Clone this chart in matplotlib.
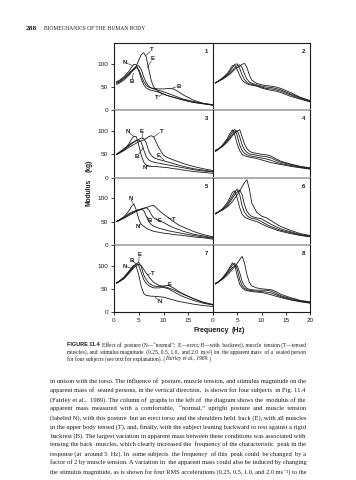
import matplotlib
matplotlib.use("Agg")
import matplotlib.pyplot as plt

# ---- data -------------------------------------------------------------------
FREQ = [0.5, 1, 2, 3, 3.5, 4, 4.5, 5, 5.5, 6, 6.5, 7, 7.5, 8, 9, 10, 11, 12, 13, 14, 16, 18, 20]

# left column: posture / muscle tension (N, E, T, B), one row per subject
POSTURE_1 = {
    "N": [62, 64, 72, 84, 92, 99, 98, 85, 68, 55, 48, 45, 43, 42, 39, 35, 31, 28, 25, 22, 17, 14, 11],
    "E": [60, 62, 70, 80, 85, 90, 95, 96, 88, 72, 60, 52, 48, 46, 43, 40, 36, 32, 28, 24, 19, 15, 12],
    "T": [58, 60, 68, 78, 83, 88, 95, 108, 120, 124, 115, 90, 65, 50, 40, 35, 31, 28, 25, 22, 17, 14, 11],
    "B": [56, 58, 65, 75, 82, 88, 92, 88, 75, 62, 54, 50, 48, 47, 46, 46, 47, 46, 40, 33, 22, 15, 11],
}
POSTURE_2 = {
    "N": [50, 53, 60, 72, 82, 89, 88, 70, 48, 33, 27, 25, 24, 24, 23, 22, 21, 19, 18, 16, 13, 11, 9],
    "B": [50, 54, 62, 70, 74, 77, 80, 81, 76, 60, 45, 38, 35, 33, 31, 29, 27, 25, 23, 21, 17, 14, 12],
    "E": [50, 53, 60, 68, 72, 76, 79, 82, 85, 84, 75, 58, 48, 43, 39, 36, 33, 30, 27, 24, 19, 16, 13],
    "T": [50, 52, 58, 65, 68, 71, 74, 77, 79, 81, 84, 88, 90, 88, 65, 48, 42, 38, 34, 30, 24, 19, 15],
}
POSTURE_3 = {
    "N": [50, 53, 60, 73, 82, 88, 75, 55, 44, 40, 36, 33, 31, 29, 27, 25, 24, 22, 21, 20, 17, 15, 12],
    "B": [50, 53, 60, 67, 70, 72, 74, 76, 77, 74, 62, 50, 44, 40, 36, 33, 30, 28, 26, 24, 20, 17, 14],
    "E": [50, 52, 58, 65, 68, 71, 73, 75, 77, 79, 80, 76, 66, 58, 52, 48, 42, 37, 33, 29, 23, 19, 15],
    "T": [50, 52, 57, 63, 66, 69, 72, 74, 76, 78, 80, 82, 84, 85, 75, 66, 58, 50, 43, 38, 29, 22, 17],
}
POSTURE_4 = {
    "N": [63, 66, 75, 88, 95, 101, 98, 80, 55, 40, 36, 35, 34, 34, 33, 32, 29, 26, 23, 21, 17, 14, 12],
    "B": [63, 66, 74, 86, 93, 99, 104, 100, 85, 70, 62, 57, 54, 52, 52, 53, 50, 44, 38, 33, 25, 19, 15],
    "E": [62, 65, 72, 84, 91, 98, 104, 107, 98, 80, 70, 63, 59, 56, 55, 56, 57, 52, 45, 39, 29, 21, 16],
    "T": [62, 65, 72, 83, 89, 95, 100, 103, 100, 92, 84, 77, 70, 64, 58, 55, 52, 48, 43, 38, 29, 21, 16],
}

# right column: stimulus magnitude (2.0, 1.0, 0.5, 0.25 m/s2), one row per subject
MAGNITUDE_1 = [
    [58, 62, 70, 80, 88, 96, 97, 88, 75, 65, 60, 57, 55, 54, 52, 48, 45, 43, 41, 38, 30, 24, 18],
    [59, 62, 69, 78, 84, 92, 99, 100, 90, 76, 66, 60, 57, 56, 53, 50, 47, 46, 44, 41, 33, 25, 19],
    [60, 62, 68, 76, 81, 86, 92, 96, 98, 92, 78, 67, 61, 58, 55, 52, 50, 49, 47, 44, 35, 27, 20],
    [60, 62, 67, 74, 78, 83, 88, 92, 95, 99, 101, 92, 76, 65, 58, 55, 53, 52, 50, 47, 38, 28, 21],
]
MAGNITUDE_2 = [
    [56, 60, 70, 85, 95, 103, 92, 72, 58, 50, 47, 45, 44, 43, 41, 38, 35, 32, 30, 28, 24, 21, 18],
    [57, 60, 69, 82, 90, 98, 104, 90, 70, 58, 52, 49, 47, 46, 44, 42, 40, 37, 33, 30, 26, 22, 19],
    [58, 60, 68, 79, 86, 93, 99, 101, 88, 70, 60, 54, 51, 50, 48, 46, 45, 42, 37, 33, 28, 23, 20],
    [59, 61, 67, 77, 83, 90, 96, 100, 103, 88, 72, 62, 57, 54, 52, 50, 49, 46, 40, 35, 29, 24, 21],
]
MAGNITUDE_3 = [
    [66, 70, 78, 92, 102, 113, 116, 100, 80, 66, 60, 57, 55, 53, 50, 45, 40, 36, 32, 29, 24, 20, 17],
    [67, 70, 77, 88, 96, 105, 114, 120, 108, 84, 70, 63, 59, 57, 55, 50, 44, 39, 35, 31, 26, 21, 18],
    [67, 70, 76, 85, 92, 100, 108, 114, 118, 108, 86, 72, 65, 61, 58, 56, 50, 44, 39, 34, 28, 22, 19],
    [68, 70, 75, 82, 87, 93, 100, 108, 116, 125, 134, 140, 120, 90, 70, 62, 58, 52, 45, 39, 31, 24, 20],
]
MAGNITUDE_4 = [
    [60, 64, 74, 88, 97, 106, 100, 78, 60, 52, 48, 46, 45, 44, 43, 42, 40, 37, 34, 31, 26, 22, 19],
    [61, 64, 73, 86, 94, 101, 105, 92, 70, 57, 51, 48, 47, 46, 45, 44, 43, 41, 37, 33, 27, 23, 20],
    [62, 64, 72, 84, 90, 96, 99, 100, 85, 66, 56, 51, 49, 48, 47, 47, 47, 45, 40, 35, 29, 24, 21],
    [62, 64, 71, 80, 86, 92, 98, 105, 113, 120, 105, 80, 64, 56, 52, 50, 49, 48, 44, 38, 31, 25, 22],
]

POSTURES = [POSTURE_1, POSTURE_2, POSTURE_3, POSTURE_4]
MAGNITUDES = [MAGNITUDE_1, MAGNITUDE_2, MAGNITUDE_3, MAGNITUDE_4]

Y_TICKS = [0, 50, 100]
X_TICKS = [0, 5, 10, 15, 20]
LEFT_XLABELS = ["0", "5", "10", "15", ""]
RIGHT_XLABELS = ["0", "5", "10", "15", "20"]

HEADER_NUM = "288"
HEADER_TXT = "BIOMECHANICS OF THE HUMAN BODY"
CAPTION = [
    [("FIGURE 11.4", "bold"), ("Effect of posture (N\u2014\u201cnormal\u201d; E\u2014erect; B\u2014with backrest), muscle tension (T\u2014tensed", "roman")],
    [("muscles), and stimulus magnitude (0.25, 0.5, 1.0, and 2.0 m/s\u00b2) on the apparent mass of a seated person", "roman")],
    [("for four subjects (see text for explanation). (", "roman"), ("Fairley et al., 1989.", "italic"), (")", "roman")],
]
BODY = [
    "in unison with the torso. The influence of posture, muscle tension, and stimulus magnitude on the",
    "apparent mass of seated persons, in the vertical direction, is shown for four subjects in Fig. 11.4",
    "(Fairley et al., 1989). The column of graphs to the left of the diagram shows the modulus of the",
    "apparent mass measured with a comfortable, \u201cnormal,\u201d upright posture and muscle tension",
    "(labeled N), with this posture but an erect torso and the shoulders held back (E), with all muscles",
    "in the upper body tensed (T), and, finally, with the subject leaning backward to rest against a rigid",
    "backrest (B). The largest variation in apparent mass between these conditions was associated with",
    "tensing the back muscles, which clearly increased the frequency of the characteristic peak in the",
    "response (at around 5 Hz). In some subjects the frequency of this peak could be changed by a",
    "factor of 2 by muscle tension. A variation in the apparent mass could also be induced by changing",
    "the stimulus magnitude, as is shown for four RMS accelerations (0.25, 0.5, 1.0, and 2.0 ms\u207b\u00b2) to the",
]

# curve labels with leader lines: (text, label x, label y, end x, end y)
LABELS = [
    [("T", 7.7, 130, 6.4, 118), ("E", 7.9, 112, 6.7, 92), ("N", 2.2, 103, 3.8, 96),
     ("B", 3.6, 62, 3.9, 80), ("B", 13.0, 52, 11.6, 47), ("T", 8.7, 27, 9.9, 36)],
    [("N", 2.7, 100, 3.9, 89), ("E", 5.6, 100, 5.6, 86), ("T", 9.6, 100, 8.1, 88),
     ("B", 4.6, 45, 5.9, 64), ("E", 9.0, 48, 10.2, 37), ("N", 6.3, 22, 7.3, 25)],
    [("N", 3.3, 100, 3.9, 88), ("B", 7.3, 53, 6.6, 61), ("E", 9.2, 53, 8.5, 56),
     ("T", 12.0, 55, 11.0, 58), ("N", 4.7, 40, 5.4, 45)],
    [("N", 2.2, 99, 3.6, 94), ("B", 3.5, 112, 4.5, 104), ("E", 5.1, 124, 5.0, 108),
     ("T", 7.8, 84, 6.7, 80), ("E", 11.2, 60, 10.6, 57), ("N", 9.2, 22, 8.3, 33)],
]

# ---- page -------------------------------------------------------------------
W, H = 356, 480
fig = plt.figure(figsize=(W / 100, H / 100), dpi=100)
fig.patch.set_facecolor("white")
INK = "#1a1a1a"
SANS = ["Liberation Sans", "DejaVu Sans"]
SERIF = ["Liberation Serif", "DejaVu Serif"]
renderer = fig.canvas.get_renderer()


def px(x, y):
    return x / W, 1 - y / H


def width_of(t):
    return t.get_window_extent(renderer).width


def fit_line(t, target):
    # shrink a too-long line, or widen a short one by adding spaces between words
    nat = width_of(t)
    if nat > target:
        t.set_fontsize(t.get_fontsize() * target / nat)
        return
    s = t.get_text()
    words = s.split(" ")
    gaps = len(words) - 1
    if gaps < 1:
        return
    t.set_text(s.replace(" ", "  ", 1))
    sp = width_of(t) - nat
    t.set_text(s)
    n = max(0, int(round((target - nat) / sp))) if sp > 0 else 0
    extra = [0] * gaps
    for k in range(n):
        extra[int((k + 0.5) * gaps / n) % gaps] += 1
    out = words[0]
    for g in range(gaps):
        out += " " * (1 + extra[g]) + words[g + 1]
    t.set_text(out)


def put_line(pieces, x0, x1, y, size, justify=True):
    styles = {"bold": (SANS, "bold", "normal"), "roman": (SERIF, "normal", "normal"),
              "italic": (SERIF, "normal", "italic")}
    x = x0
    for i, (txt, kind) in enumerate(pieces):
        fam, wt, st = styles[kind]
        t = fig.text(*px(x, y), txt, fontsize=size, family=fam, fontweight=wt, fontstyle=st,
                     color=INK, va="center_baseline", ha="left")
        gap = size * 100 / 72 * 0.45 if kind == "bold" else 0
        if justify and i == len(pieces) - 1:
            fit_line(t, x1 - x)
        x += width_of(t) + gap


fig.text(*px(26, 29), HEADER_NUM, fontsize=5.4, family=SERIF, fontweight="bold", color=INK, va="center")
fig.text(*px(44, 29), HEADER_TXT, fontsize=4.0, family=SERIF, color=INK, va="center")

# ---- chart panels -------------------------------------------------------------
col_x = [(114, 99), (213, 97)]
row_top0, row_h = 43, 67.25

for row in range(4):
    top = row_top0 + row * row_h
    for col in range(2):
        x0, w = col_x[col]
        l, b = px(x0, top + row_h)
        ax = fig.add_axes([l, b, w / W, row_h / H])
        ax.set_xlim(0, 20)
        ax.set_ylim(0, 145)
        ax.set_facecolor("none")

        if col == 0:
            for name, vals in POSTURES[row].items():
                ax.plot(FREQ, vals, color=INK, lw=0.6)
            for txt, lx, ly, ex, ey in LABELS[row]:
                ax.text(lx, ly, txt, fontsize=4.3, family=SANS, fontweight="bold",
                        color=INK, ha="center", va="center")
                ax.plot([lx + (ex - lx) * 0.3, ex], [ly + (ey - ly) * 0.3, ey], color=INK, lw=0.4)
        else:
            for vals in MAGNITUDES[row]:
                ax.plot(FREQ, vals, color=INK, lw=0.6)

        ax.text(0.93, 0.87, str(row * 2 + col + 1), transform=ax.transAxes, fontsize=4.3,
                family=SANS, fontweight="bold", color=INK, ha="center", va="center")

        for s in ax.spines.values():
            s.set_color(INK)
            s.set_linewidth(0.8)
        ax.spines["top"].set_visible(row == 0)
        ax.spines["right"].set_visible(col == 1)
        if row < 3:
            ax.spines["bottom"].set_color("#a8a8a8")
            ax.spines["bottom"].set_linewidth(1.3)

        if col == 0:
            ax.set_yticks(Y_TICKS)
            ax.set_yticklabels([str(v) for v in Y_TICKS])
            ax.tick_params(axis="y", direction="out", length=2.5, width=0.6, pad=1.5,
                           labelsize=4.6, colors=INK)
        else:
            ax.set_yticks([])
        if row == 3:
            ax.set_xticks(X_TICKS)
            ax.set_xticklabels(LEFT_XLABELS if col == 0 else RIGHT_XLABELS)
            ax.tick_params(axis="x", direction="out", length=2.5, width=0.6, pad=1.5,
                           labelsize=4.6, colors=INK)
        else:
            ax.set_xticks([])
        for lab in ax.get_xticklabels() + ax.get_yticklabels():
            lab.set_family(SANS)

fig.text(*px(211, 330), "Frequency", fontsize=5, family=SANS, fontweight="bold", color=INK,
         ha="center", va="center")
fig.text(*px(238, 330), "(Hz)", fontsize=5, family=SANS, fontweight="bold", color=INK,
         ha="center", va="center")
fig.text(*px(89, 192), "Modulus", fontsize=4.8, family=SANS, fontweight="bold", color=INK,
         ha="center", va="center", rotation=90)
fig.text(*px(89, 166), "(kg)", fontsize=4.8, family=SANS, fontweight="bold", color=INK,
         ha="center", va="center", rotation=90)

# ---- caption and running text -------------------------------------------------
cap_y = [344, 351, 358]
for i, pieces in enumerate(CAPTION):
    put_line(pieces, 67, 306, cap_y[i], 4.0, justify=(i < 2))

for i, line in enumerate(BODY):
    put_line([(line, "roman")], 50, 306, 381 + 9 * i, 4.7)

fig.savefig("out.png", dpi=100, facecolor="white")
